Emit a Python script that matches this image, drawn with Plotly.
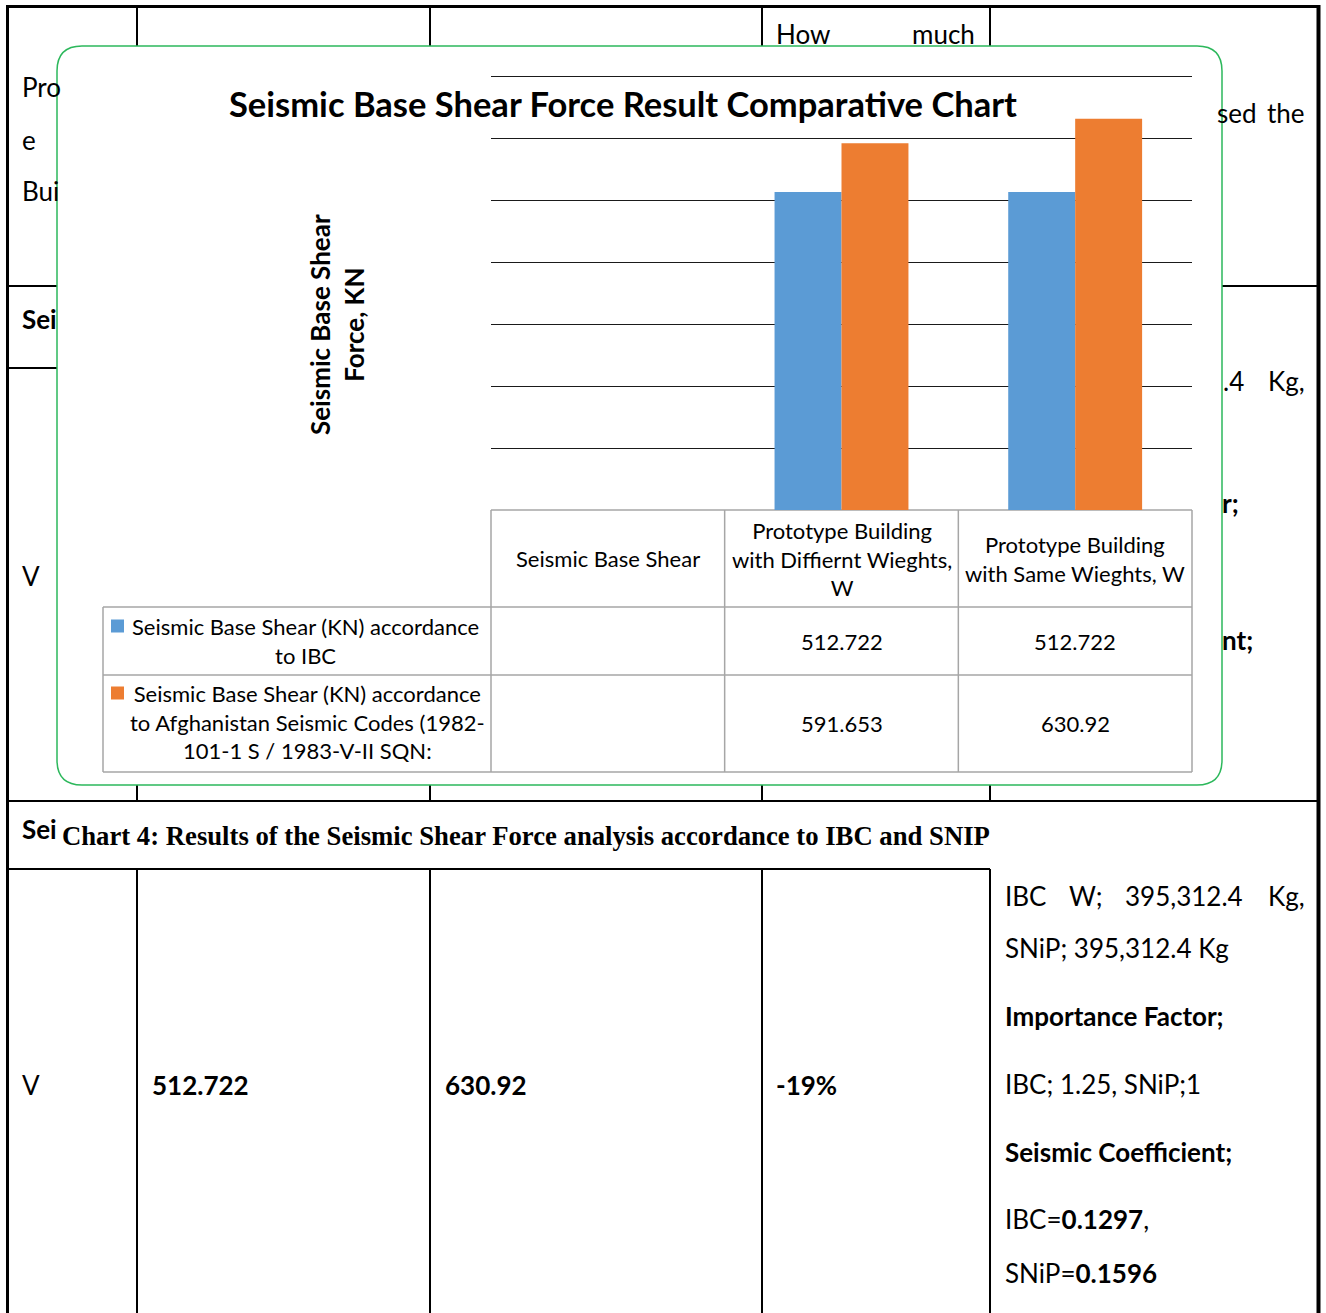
"""
Seismic base shear comparison chart laid over the report table it sits in.
"""

import plotly.graph_objects as go

W, H = 1326, 1313

categories = [
    "Seismic Base Shear",
    "Prototype Building with Diffiernt Wieghts, W",
    "Prototype Building with Same Wieghts, W",
]
header_labels = [
    "Seismic Base Shear",
    "Prototype Building<br>with Diffiernt Wieghts,<br>W",
    "Prototype Building<br>with Same Wieghts, W",
]
series_names = [
    "Seismic Base Shear (KN) accordance<br>to IBC",
    "Seismic Base Shear (KN) accordance<br>to Afghanistan Seismic Codes (1982-<br>101-1 S / 1983-V-II SQN:",
]
ibc_kn = [None, 512.722, 512.722]
afg_kn = [None, 591.653, 630.92]
y_ticks = [100, 200, 300, 400, 500, 600, 700]

BLUE = "#5B9BD5"
ORANGE = "#ED7D31"
GREEN = "#2DB85C"
GRID = "#A6A6A6"
FONT = "Lato"
DOC = 26  # body text size of the report


def fx(x):
    return x / W


def fy(y):
    return 1 - y / H


def hline(y, x0, x1, width=2, color="black"):
    return dict(type="line", xref="paper", yref="paper", x0=fx(x0), x1=fx(x1),
                y0=fy(y), y1=fy(y), line=dict(color=color, width=width), layer="below")


def vline(x, y0, y1, width=2, color="black"):
    return dict(type="line", xref="paper", yref="paper", x0=fx(x), x1=fx(x),
                y0=fy(y0), y1=fy(y1), line=dict(color=color, width=width), layer="below")


def text(t, x, y, size=DOC, anchor="left", color="black", family=FONT):
    return dict(text=t, x=fx(x), y=fy(y), xref="paper", yref="paper", showarrow=False,
                xanchor=anchor, yanchor="middle", font=dict(family=family, size=size, color=color))


# plot area of the bar chart (px); 700 sits at y=76, top padded so its gridline is kept
PX0, PX1, PY1 = 491, 1192, 510
PAD = 4
PY0 = 76 - PAD
Y_MAX = 700 * (PY1 - PY0) / (PY1 - PY0 - PAD)

fig = go.Figure()
fig.add_trace(go.Bar(x=categories, y=ibc_kn, marker=dict(color=BLUE, line=dict(width=0)),
                     name="IBC"))
fig.add_trace(go.Bar(x=categories, y=afg_kn, marker=dict(color=ORANGE, line=dict(width=0)),
                     name="Afghanistan"))

shapes = []
# report table behind the chart
shapes += [
    hline(6.5, 6, 1320, 3),
    vline(7.5, 5, H, 3),
    vline(1318.5, 5, H, 4),
    hline(286, 7, 1318),
    hline(368, 7, 990),
    hline(801, 7, 1318),
    hline(869, 7, 990),
]
for x in (137, 430, 762, 990):
    shapes += [vline(x, 7, 286), vline(x, 368, 801), vline(x, 869, H)]

# rounded chart frame
x0, y0, x1, y1, r = 57, 46, 1222, 785, 25
rx, ry = r / W, r / H
path = (
    f"M {fx(x0) + rx} {fy(y0)} L {fx(x1) - rx} {fy(y0)} "
    f"Q {fx(x1)} {fy(y0)} {fx(x1)} {fy(y0) - ry} L {fx(x1)} {fy(y1) + ry} "
    f"Q {fx(x1)} {fy(y1)} {fx(x1) - rx} {fy(y1)} L {fx(x0) + rx} {fy(y1)} "
    f"Q {fx(x0)} {fy(y1)} {fx(x0)} {fy(y1) + ry} L {fx(x0)} {fy(y0) - ry} "
    f"Q {fx(x0)} {fy(y0)} {fx(x0) + rx} {fy(y0)} Z"
)
shapes.append(dict(type="path", xref="paper", yref="paper", path=path, fillcolor="white",
                   line=dict(color=GREEN, width=1.5), layer="below"))

# data table under the bars
col_w = (PX1 - PX0) / len(categories)
TB, TR1, TBOT, TL = 607, 675, 772, 103
shapes.append(hline(PY1, PX0, PX1, 1.5, GRID))
for yy in (TB, TR1, TBOT):
    shapes.append(hline(yy, TL, PX1, 1.5, GRID))
shapes.append(vline(TL, TB, TBOT, 1.5, GRID))
for i in range(len(categories) + 1):
    shapes.append(vline(PX0 + i * col_w, PY1, TBOT, 1.5, GRID))
# legend keys
for yk, col in ((626, BLUE), (693, ORANGE)):
    shapes.append(dict(type="rect", xref="paper", yref="paper", x0=fx(111), x1=fx(124),
                       y0=fy(yk - 6.5), y1=fy(yk + 6.5), fillcolor=col,
                       line=dict(width=0), layer="below"))

ann = []
# chart title and axis title
ann.append(text("<b>Seismic Base Shear Force Result Comparative Chart</b>", 623, 104, 34.5, "center"))
ann.append(dict(text="<b>Seismic Base Shear<br>Force, KN</b>", x=fx(337), y=fy(325),
                xref="paper", yref="paper", showarrow=False, textangle=-90,
                xanchor="center", yanchor="middle", font=dict(family=FONT, size=26, color="black")))

# data table text
for cat, lab in zip(categories, header_labels):
    ann.append(dict(text=lab, x=cat, y=fy(559), xref="x", yref="paper", showarrow=False,
                    xanchor="center", yanchor="middle",
                    font=dict(family=FONT, size=22, color="black")))
for vals, yv in ((ibc_kn, 641), (afg_kn, 723)):
    for cat, v in zip(categories, vals):
        if v is None:
            continue
        ann.append(dict(text=f"{v:g}", x=cat, y=fy(yv), xref="x", yref="paper",
                        showarrow=False, xanchor="center", yanchor="middle",
                        font=dict(family=FONT, size=22, color="black")))
ann.append(text(series_names[0], 305, 641, 22, "center"))
ann.append(text(series_names[1], 307, 722, 22, "center"))

# report text around the chart
ann += [
    text("Pro", 20, 87), text("e", 20, 140), text("Bui", 20, 191),
    text("<b>Sei</b>", 20, 319), text("V", 20, 576),
    text("How", 774, 34), text("much", 977, 34, anchor="right"),
    text("sed", 1259, 113, anchor="right"), text("the", 1307, 113, anchor="right"),
    text(".4", 1246, 381, anchor="right"), text("Kg,", 1307, 381, anchor="right"),
    text("<b>r;</b>", 1220, 503), text("<b>nt;</b>", 1220, 640),
    text("<b>Sei</b>", 20, 829),
    text("<b>Chart 4: Results of the Seismic Shear Force analysis accordance to IBC and SNIP</b>",
         60, 836, 26.7, family="Liberation Serif"),
    text("V", 20, 1085),
    text("<b>512.722</b>", 150, 1085), text("<b>630.92</b>", 443, 1085), text("<b>-19%</b>", 774, 1085),
    text("IBC", 1003, 896), text("W;", 1067, 896), text("395,312.4", 1123, 896),
    text("Kg,", 1307, 896, anchor="right"),
    text("SNiP; 395,312.4 Kg", 1003, 948),
    text("<b>Importance Factor;</b>", 1003, 1016),
    text("IBC; 1.25, SNiP;1", 1003, 1084),
    text("<b>Seismic Coefficient;</b>", 1003, 1152),
    text("IBC=<b>0.1297</b>,", 1003, 1219),
    text("SNiP=<b>0.1596</b>", 1003, 1273),
]

fig.update_layout(
    width=W,
    height=H,
    margin=dict(l=0, r=0, t=0, b=0),
    paper_bgcolor="white",
    plot_bgcolor="white",
    showlegend=False,
    barmode="group",
    bargap=0.427,
    bargroupgap=0,
    shapes=shapes,
    annotations=ann,
    font=dict(family=FONT),
    xaxis=dict(domain=[fx(PX0), fx(PX1)], showticklabels=False, showgrid=False,
               showline=False, zeroline=False, ticks="", fixedrange=True),
    yaxis=dict(domain=[fy(PY1), fy(PY0)], range=[0, Y_MAX], tickmode="array", tickvals=y_ticks,
               showticklabels=False, showgrid=True, gridcolor="#1a1a1a", gridwidth=1,
               showline=False, zeroline=False, ticks="", fixedrange=True),
)

fig.write_html("out.html", config={"displayModeBar": False},
               post_script="document.body.style.margin='0';")
